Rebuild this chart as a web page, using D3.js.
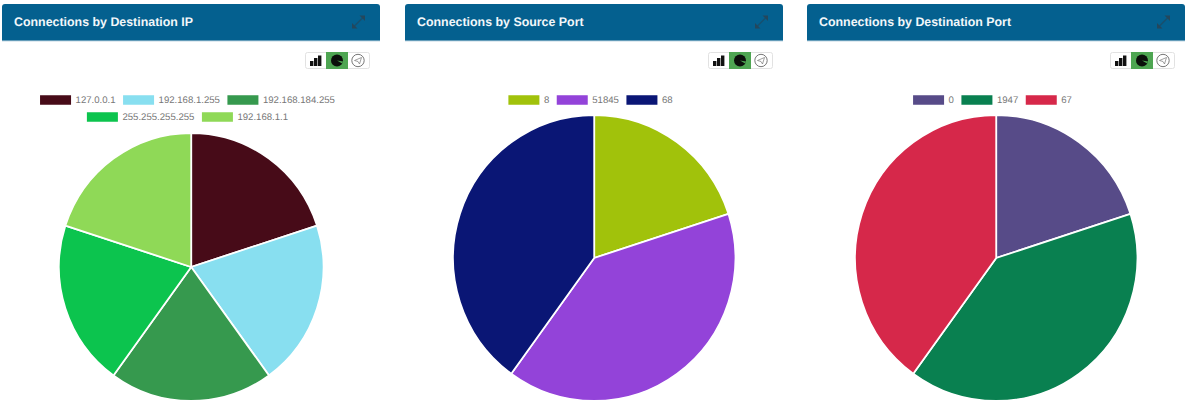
<!DOCTYPE html>
<html>
<head>
<meta charset="utf-8">
<script src="https://cdn.jsdelivr.net/npm/d3@7/dist/d3.min.js"></script>
<style>
  html, body { margin: 0; padding: 0; background: #fff; overflow: hidden; }
  svg { display: block; font-family: "Liberation Sans", Arial, sans-serif; text-rendering: geometricPrecision; }
</style>
</head>
<body>
<svg id="chart" width="1186" height="415"></svg>
<script>
// Connection counts per panel
const destIpLabels = ["127.0.0.1", "192.168.1.255", "192.168.184.255", "255.255.255.255", "192.168.1.1"];
const destIpValues = [1, 1, 1, 1, 1];
const destIpColors = ["#470b18", "#88dff0", "#36994e", "#0cc44e", "#8fd957"];

const srcPortLabels = ["8", "51845", "68"];
const srcPortValues = [1, 2, 2];
const srcPortColors = ["#a1c20b", "#9343d9", "#0a1675"];

const destPortLabels = ["0", "1947", "67"];
const destPortValues = [1, 2, 2];
const destPortColors = ["#574b88", "#098050", "#d6284a"];

const panels = [
  { title: "Connections by Destination IP", x: 2, labels: destIpLabels, values: destIpValues, colors: destIpColors },
  { title: "Connections by Source Port", x: 405, labels: srcPortLabels, values: srcPortValues, colors: srcPortColors },
  { title: "Connections by Destination Port", x: 807, labels: destPortLabels, values: destPortValues, colors: destPortColors }
];

const panelWidth = 378, headerTop = 4, headerHeight = 37;
const legendFirstRow = 100, legendRowStep = 17;
const boxW = 31, boxH = 9.5, boxGap = 4.5, itemGap = 7.5;
const pieBottom = 401, pieSquash = 0.987;
const legendFont = 9.6;

const svg = d3.select("#chart");

function drawHeader(g, title) {
  const w = panelWidth, h = headerHeight, r = 3;
  g.append("path")
    .attr("d", `M0,${h}V${r}Q0,0 ${r},0H${w - r}Q${w},0 ${w},${r}V${h}Z`)
    .attr("fill", "#04608f");
  g.append("line").attr("x1", 0).attr("x2", w).attr("y1", h).attr("y2", h)
    .attr("stroke", "#c4d8e3").attr("stroke-width", 1);
  g.append("text").attr("x", 12).attr("y", 21.5)
    .attr("fill", "#f2f7fa").attr("font-size", 12.4).attr("font-weight", 700)
    .text(title);

  // expand arrows
  const ex = g.append("g").attr("transform", `translate(${w - 21.5},18)`)
    .attr("fill", "#24475c");
  ex.append("line").attr("x1", -4).attr("y1", 4).attr("x2", 4).attr("y2", -4)
    .attr("stroke", "#24475c").attr("stroke-width", 1.2).attr("opacity", 0.7);
  ex.append("path").attr("d", "M1,-6.5H6.5V-1Z");
  ex.append("path").attr("d", "M-1,6.5H-6.5V1Z");
}

function drawToggle(g) {
  const t = g.append("g").attr("transform", `translate(${panelWidth - 75},48)`);
  t.append("rect").attr("x", 0.5).attr("y", 0.5).attr("width", 64).attr("height", 16).attr("rx", 2)
    .attr("fill", "#fff").attr("stroke", "#e2e2e2");

  // bar glyph
  [[5, 9], [9, 6], [13, 3.5]].forEach(([bx, by]) => {
    t.append("rect").attr("x", bx).attr("y", by).attr("width", 3.4).attr("height", 14 - by).attr("fill", "#111");
  });

  // active pie button
  t.append("rect").attr("x", 21).attr("y", 0).attr("width", 22).attr("height", 17).attr("fill", "#4ea552");
  t.append("circle").attr("cx", 32).attr("cy", 8.5).attr("r", 6).attr("fill", "#0b0f0b");
  t.append("path").attr("d", "M32,8.5L38,9.5L37.2,11.5Z").attr("fill", "#4ea552");

  // radar glyph
  t.append("circle").attr("cx", 53).attr("cy", 8.5).attr("r", 6.2)
    .attr("fill", "none").attr("stroke", "#666").attr("stroke-width", 0.9);
  t.append("path").attr("d", "M49.5,8.5L56.5,5.5L54.5,12L53,9.5Z")
    .attr("fill", "none").attr("stroke", "#777").attr("stroke-width", 0.7);
}

function drawLegend(g, panel) {
  const color = d3.scaleOrdinal().domain(panel.labels).range(panel.colors);
  const measure = g.append("text").attr("font-size", legendFont).attr("visibility", "hidden");
  const items = panel.labels.map(label => {
    const tw = measure.text(label).node().getComputedTextLength();
    return { label, tw, w: boxW + boxGap + tw };
  });
  measure.remove();

  // wrap entries into centred rows
  const rows = [];
  let row = [], used = 0;
  items.forEach(it => {
    const next = used + (row.length ? itemGap : 0) + it.w;
    if (row.length && next > panelWidth - 40) {
      rows.push(row); row = [it]; used = it.w;
    } else { row.push(it); used = next; }
  });
  rows.push(row);

  rows.forEach((r, i) => {
    const total = d3.sum(r, d => d.w) + itemGap * (r.length - 1);
    let x = (panelWidth - total) / 2 - 3.5;
    const y = legendFirstRow + i * legendRowStep;
    r.forEach(it => {
      g.append("rect").attr("x", x).attr("y", y - boxH / 2).attr("width", boxW).attr("height", boxH)
        .attr("fill", color(it.label));
      g.append("text").attr("x", x + boxW + boxGap).attr("y", y + 3.4)
        .attr("font-size", legendFont).attr("fill", "#777").text(it.label);
      x += it.w + itemGap;
    });
  });
  return rows.length;
}

function drawPie(g, panel, rows) {
  const color = d3.scaleOrdinal().domain(panel.labels).range(panel.colors);
  const top = 98 + rows * legendRowStep - (rows > 1 ? -1 : 0);
  const radius = (pieBottom - top) / 2;
  const pie = d3.pie().sort(null).value((d, i) => panel.values[i]);
  const arc = d3.arc().innerRadius(0).outerRadius(radius);
  g.append("g")
    .attr("transform", `translate(${panelWidth / 2 + 0.2},${top + radius}) scale(${pieSquash},1)`)
    .selectAll("path")
    .data(pie(panel.labels))
    .join("path")
    .attr("d", arc)
    .attr("fill", d => color(d.data))
    .attr("stroke", "#fff")
    .attr("stroke-width", 1.8);
}

panels.forEach(panel => {
  const head = svg.append("g").attr("transform", `translate(${panel.x},${headerTop})`);
  drawHeader(head, panel.title);
  drawToggle(head);
  const body = svg.append("g").attr("transform", `translate(${panel.x},0)`);
  const rows = drawLegend(body, panel);
  drawPie(body, panel, rows);
});
</script>
</body>
</html>
